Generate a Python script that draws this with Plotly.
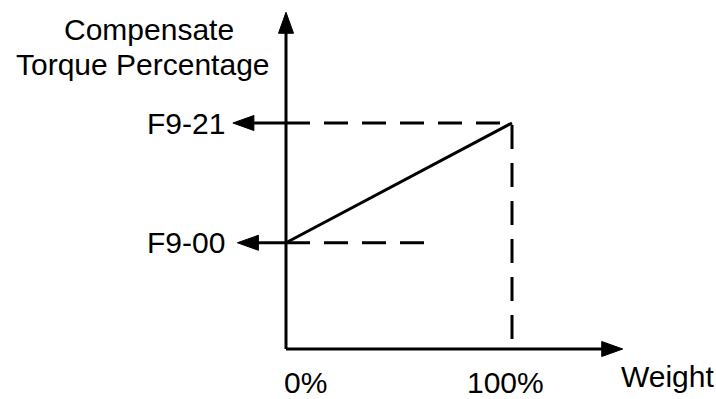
import plotly.graph_objects as go

# weight axis positions (percent) and compensate torque levels
weight = [0, 100]
weight_labels = ["0%", "100%"]
torque = [47, 100]
torque_labels = ["F9-00", "F9-21"]

PX = 2.26          # pixels per data unit (same on both axes)
AX_LEN = 149       # axis length incl. arrow tip
HEAD_L = 21 / PX   # arrow head length
HEAD_W = 7.5 / PX  # arrow head half width
FONT = dict(family="Liberation Sans, Arial", size=30, color="black")


def head(tx, ty, dx, dy):
    """triangle with tip at (tx, ty), pointing along (dx, dy)"""
    bx, by = tx - dx * HEAD_L, ty - dy * HEAD_L
    px, py = -dy * HEAD_W, dx * HEAD_W
    return dict(x=[tx, bx + px, bx - px, tx], y=[ty, by + py, by - py, ty])


fig = go.Figure()

solid = dict(color="black", width=3)
dash = dict(color="black", width=3, dash="24px,14px")

# axes
fig.add_trace(go.Scatter(x=[0, 0, None, 0, AX_LEN - HEAD_L / 2],
                         y=[AX_LEN - HEAD_L / 2, 0, None, 0, 0],
                         mode="lines", line=solid))

# compensation curve
fig.add_trace(go.Scatter(x=weight, y=torque, mode="lines", line=solid))

# guide lines
fig.add_trace(go.Scatter(x=[weight[0], weight[1], weight[1]],
                         y=[torque[1], torque[1], 4],
                         mode="lines", line=dash))
fig.add_trace(go.Scatter(x=[weight[0], 63.5], y=[torque[0], torque[0]],
                         mode="lines", line=dash))

# arrows pointing at the torque labels
tips = [-21.5, -23.5]
for t, tip in zip(torque, tips):
    fig.add_trace(go.Scatter(x=[0, tip + HEAD_L / 2], y=[t, t],
                             mode="lines", line=solid))
    fig.add_trace(go.Scatter(**head(tip, t, -1, 0), mode="lines",
                             fill="toself", fillcolor="black",
                             line=dict(color="black", width=1)))

# axis arrow heads
for h in [head(0, AX_LEN, 0, 1), head(AX_LEN, 0, 1, 0)]:
    fig.add_trace(go.Scatter(**h, mode="lines", fill="toself",
                             fillcolor="black",
                             line=dict(color="black", width=1)))

# texts
for t, lab in zip(torque, torque_labels):
    fig.add_annotation(x=-26, y=t, text=lab, xanchor="right",
                       yanchor="middle", showarrow=False, font=FONT)

for w, lab, off in zip(weight, weight_labels, [8.8, -2.7]):
    fig.add_annotation(x=w + off, y=-15, text=lab, xanchor="center",
                       yanchor="middle", showarrow=False, font=FONT)

fig.add_annotation(x=168.6, y=-12, text="Weight", showarrow=False,
                   xanchor="center", yanchor="middle", font=FONT)
fig.add_annotation(x=-60.6, y=141.2, text="Compensate", showarrow=False,
                   xanchor="center", yanchor="middle", font=FONT)
fig.add_annotation(x=-63.1, y=126.0, text="Torque Percentage",
                   showarrow=False, xanchor="center", yanchor="middle",
                   font=FONT)

fig.update_xaxes(range=[-286 / PX, 430 / PX], visible=False)
fig.update_yaxes(range=[-50 / PX, 349 / PX], visible=False)
fig.update_layout(width=716, height=399,
                  margin=dict(l=0, r=0, t=0, b=0),
                  plot_bgcolor="white", paper_bgcolor="white",
                  showlegend=False)

fig.write_html("out.html", config=dict(displayModeBar=False),
               post_script="document.body.style.margin='0px';"
                           "document.body.style.overflow='hidden';")
